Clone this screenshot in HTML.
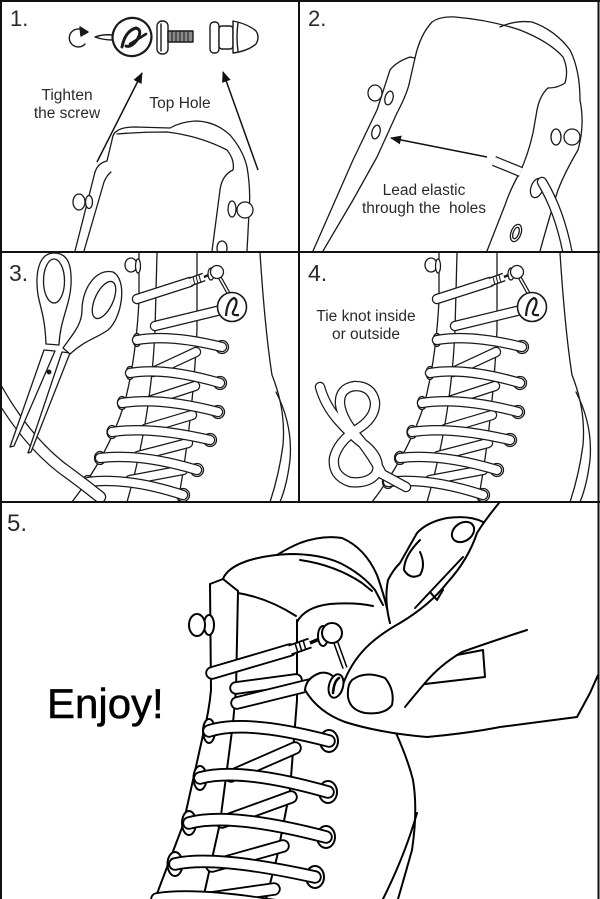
<!DOCTYPE html>
<html><head><meta charset="utf-8">
<style>
html,body{margin:0;padding:0;background:#fff;}
svg{display:block;}
.t{font-family:"Liberation Sans",sans-serif;fill:#2a2a2a;}
.bo{fill:none;stroke:#1a1a1a;stroke-width:10.5;stroke-linecap:round;}
.bi{fill:none;stroke:#fff;stroke-width:8;stroke-linecap:round;}
.bo5{fill:none;stroke:#000;stroke-width:13.5;stroke-linecap:round;}
.bi5{fill:none;stroke:#fff;stroke-width:9.8;stroke-linecap:round;}
</style></head><body>
<svg width="600" height="899" viewBox="0 0 600 899" xmlns="http://www.w3.org/2000/svg">
<defs>
 <marker id="ah" viewBox="0 0 11 9" refX="10" refY="4.5" markerWidth="11" markerHeight="9" orient="auto" markerUnits="userSpaceOnUse">
  <path d="M0,0 L11,4.5 L0,9 Z" fill="#111"/>
 </marker>
 <clipPath id="c1"><rect x="2" y="2" width="296" height="249"/></clipPath>
 <clipPath id="c2"><rect x="300" y="2" width="297" height="249"/></clipPath>
 <clipPath id="c3"><rect x="2" y="253" width="296" height="248"/></clipPath>
 <clipPath id="c4"><rect x="300" y="253" width="297" height="248"/></clipPath>
 <clipPath id="c5"><rect x="2" y="503" width="596" height="396"/></clipPath>

 <g id="boot34">
  <g fill="none" stroke="#1a1a1a" stroke-width="1.3" stroke-linecap="round" stroke-linejoin="round">
   <path d="M139,253 L139,300 Q136,360 124,405 Q108,455 72,502"/>
   <path d="M157,253 L155,330 Q151,420 127,502"/>
   <path d="M197,253 L197,330 Q193,420 178,502"/>
   <path d="M260,253 Q265,330 272,375 Q286,410 283,445 Q279,475 270,502"/>
   <path d="M276,392 Q293,425 290,460 Q287,485 280,502"/>
  </g>
  <path class="bo" d="M153,372 L196,352"/><path class="bi" d="M153,372 L196,352"/>
  <path class="bo" d="M149,401 L195,386"/><path class="bi" d="M149,401 L195,386"/>
  <path class="bo" d="M145,429 L192,415"/><path class="bi" d="M145,429 L192,415"/>
  <path class="bo" d="M138,456 L188,443"/><path class="bi" d="M138,456 L188,443"/>
  <path class="bo" d="M130,480 L183,470"/><path class="bi" d="M130,480 L183,470"/>
  <g fill="#fff" stroke="#1a1a1a" stroke-width="1.3">
   <circle cx="222" cy="347" r="6.5"/><circle cx="220" cy="383" r="6.5"/><circle cx="218" cy="412" r="6.5"/>
   <circle cx="210" cy="440" r="6.5"/><circle cx="197" cy="470" r="6.5"/><circle cx="183" cy="495" r="6.5"/>
   <ellipse cx="137" cy="340" rx="4" ry="6.5"/><ellipse cx="130" cy="373" rx="4" ry="6.5"/><ellipse cx="122" cy="403" rx="4.5" ry="6.5"/>
   <ellipse cx="112" cy="432" rx="5" ry="6.5"/><ellipse cx="100" cy="458" rx="5.5" ry="6.5"/><ellipse cx="88" cy="482" rx="5.5" ry="6.5"/>
  </g>
  <path class="bo" d="M155,326 L221,310"/><path class="bi" d="M155,326 L221,310"/>
  <path class="bo" d="M137,299 L190,282"/><path class="bi" d="M137,299 L190,282"/>
  <path d="M190,282 L204,277" stroke="#1a1a1a" stroke-width="9" fill="none"/>
  <path d="M190,282 L204,277" stroke="#fff" stroke-width="6.4" fill="none"/>
  <g stroke="#1a1a1a" stroke-width="1">
   <line x1="193" y1="277" x2="195" y2="285"/><line x1="196" y1="276" x2="198" y2="284"/><line x1="199" y1="275" x2="201" y2="283"/>
  </g>
  <path d="M204,277 L213,273" stroke="#1a1a1a" stroke-width="2.5"/>
  <path class="bo" d="M137,340 Q170,334 222,347"/><path class="bi" d="M137,340 Q170,334 222,347"/>
  <path class="bo" d="M130,373 Q165,367 220,383"/><path class="bi" d="M130,373 Q165,367 220,383"/>
  <path class="bo" d="M122,403 Q160,397 218,412"/><path class="bi" d="M122,403 Q160,397 218,412"/>
  <path class="bo" d="M112,432 Q150,426 210,440"/><path class="bi" d="M112,432 Q150,426 210,440"/>
  <path class="bo" d="M100,458 Q140,453 197,470"/><path class="bi" d="M100,458 Q140,453 197,470"/>
  <path class="bo" d="M88,482 Q128,477 183,495"/><path class="bi" d="M88,482 Q128,477 183,495"/>
  <g fill="#fff" stroke="#1a1a1a" stroke-width="1.3">
   <path d="M220,278 L229,294" stroke-width="4"/>
   <path d="M220,278 L229,294" stroke="#fff" stroke-width="1.6"/>
   <ellipse cx="211" cy="274" rx="3" ry="6"/>
   <circle cx="217" cy="272" r="6.5"/>
   <circle cx="232" cy="307" r="14.5" stroke-width="1.6"/>
   <ellipse cx="131" cy="265" rx="6" ry="7"/>
   <ellipse cx="138" cy="266" rx="2.5" ry="7"/>
  </g>
  <path d="M226,316 Q227,301 234,298 Q239,300 234,310 Q230,316 239,315" fill="none" stroke="#1a1a1a" stroke-width="2.2"/>
 </g>
</defs>

<!-- ========== PANEL 1 ========== -->
<g clip-path="url(#c1)">
 <text class="t" x="10" y="26" font-size="22">1.</text>
 <g fill="none" stroke="#1a1a1a" stroke-width="1.4" stroke-linecap="round" stroke-linejoin="round">
  <path d="M84,31 A9,9 0 1 0 85,44"/>
  <path d="M80,27 L88,32 L81,36 Z" fill="#1a1a1a"/>
  <path d="M95,37 Q103,34 113,35 L113,40 Q103,40 95,37 Z" fill="#fff"/>
  <ellipse cx="132" cy="37" rx="19.5" ry="19" stroke-width="2.2" fill="#fff" transform="rotate(-20 132 37)"/>
  <path d="M122,47 Q125,31 136,28 Q143,30 137,40 Q131,48 126,46" stroke-width="3"/>
  <path d="M130,44 L146,34" stroke-width="2.6"/>
  <rect x="157" y="21" width="11" height="33" rx="5" fill="#fff"/>
  <line x1="161" y1="24" x2="161" y2="51"/>
  <rect x="168" y="31" width="25" height="11" fill="#8a8a8a"/>
  <path d="M172,31 V42 M176,31 V42 M180,31 V42 M184,31 V42 M188,31 V42" stroke-width="1"/>
  <rect x="210" y="22" width="9" height="31" rx="4" fill="#fff"/>
  <rect x="219" y="26" width="14" height="23" rx="3" fill="#fff"/>
  <path d="M233,21 Q248,24 256,31 Q260,37 256,44 Q248,51 233,53 Z" fill="#fff"/>
  <path d="M238,23 Q236,37 238,51"/>
 </g>
 <line x1="97" y1="162" x2="142" y2="73" stroke="#111" stroke-width="1.5" marker-end="url(#ah)"/>
 <line x1="258" y1="170" x2="223" y2="72" stroke="#111" stroke-width="1.5" marker-end="url(#ah)"/>
 <text class="t" x="67" y="100" font-size="15.5" text-anchor="middle">Tighten</text>
 <text class="t" x="67" y="118" font-size="15.5" text-anchor="middle">the screw</text>
 <text class="t" x="180" y="108" font-size="15.5" text-anchor="middle">Top Hole</text>
 <g fill="none" stroke="#1a1a1a" stroke-width="1.3" stroke-linecap="round" stroke-linejoin="round">
  <path d="M75,251 L95,172 Q98,163 107,161 L112,140 Q113,133 117,131"/>
  <path d="M84,251 L104,182 Q107,175 111,172"/>
  <path d="M117,131 Q122,127 135,127 L170,128 Q180,122 195,121 Q215,121 230,135 Q243,150 247,167 Q251,190 249,213 L247,251"/>
  <path d="M117,134 Q140,132 167,132 Q200,136 227,150 Q235,160 233,170 Q222,175 220,190 L212,251"/>
  <ellipse cx="79" cy="202" rx="6" ry="8" fill="#fff"/>
  <ellipse cx="89" cy="202" rx="3.5" ry="6.5" fill="#fff"/>
  <ellipse cx="232" cy="209" rx="4" ry="8" fill="#fff"/>
  <circle cx="245" cy="210" r="8" fill="#fff"/>
  <ellipse cx="222" cy="248" rx="5" ry="7"/>
 </g>
</g>

<!-- ========== PANEL 2 ========== -->
<g clip-path="url(#c2)">
 <text class="t" x="308" y="26" font-size="22">2.</text>
 <g fill="none" stroke="#1a1a1a" stroke-width="1.3" stroke-linecap="round" stroke-linejoin="round">
  <path d="M313,251 L353,160 L377,110 L390,70 Q396,62 410,57 L415,58"/>
  <path d="M323,251 L353,200 L377,157 L397,113 Q408,92 410,80 L415,58"/>
  <path d="M415,58 Q420,35 432,22 Q440,16 455,17 Q490,20 520,30 Q550,42 563,57 Q569,70 565,83 Q558,88 548,88"/>
  <path d="M500,27 Q515,20 532,22 Q555,30 570,50 Q580,70 580,100"/>
  <path d="M548,88 Q540,95 537,110 L533,133 Q528,155 520,172 Q510,190 505,205 L487,251"/>
  <path d="M580,100 Q585,125 578,150 Q565,172 558,190 Q550,215 540,251"/>
  <ellipse cx="375" cy="93" rx="7" ry="8" fill="#fff"/>
  <ellipse cx="389" cy="98" rx="4" ry="7" transform="rotate(15 389 98)"/>
  <ellipse cx="376" cy="132" rx="4" ry="7" transform="rotate(15 376 132)"/>
  <ellipse cx="556" cy="137" rx="5" ry="8" fill="#fff"/>
  <circle cx="572" cy="137" r="8" fill="#fff"/>
  <ellipse cx="516" cy="233" rx="5" ry="9" transform="rotate(20 516 233)"/>
  <ellipse cx="516" cy="233" rx="2.8" ry="6" transform="rotate(20 516 233)"/>
 </g>
 <path d="M494,161 L521,172" stroke="#1a1a1a" stroke-width="10.5"/>
 <path d="M494,161 L521,172" stroke="#fff" stroke-width="8"/>
 <ellipse cx="537" cy="188" rx="6" ry="10" fill="#fff" stroke="#1a1a1a" stroke-width="1.3" transform="rotate(20 537 188)"/>
 <path class="bo" d="M542,182 Q560,212 568,255"/><path class="bi" d="M542,182 Q560,212 568,255"/>
 <line x1="487" y1="157" x2="391" y2="138" stroke="#111" stroke-width="1.6" marker-end="url(#ah)"/>
 <text class="t" x="424" y="195" font-size="15.5" text-anchor="middle">Lead elastic</text>
 <text class="t" x="424" y="213" font-size="15.5" text-anchor="middle">through the&#160; holes</text>
</g>

<!-- ========== PANEL 3 ========== -->
<g clip-path="url(#c3)">
 <use href="#boot34"/>
 <path class="bo" d="M-5,386 Q28,445 70,474 Q85,485 100,497" style="stroke-width:12.5"/>
 <path class="bi" d="M-5,386 Q28,445 70,474 Q85,485 100,497" style="stroke-width:10"/>
 <g fill="#fff" stroke="#1a1a1a" stroke-width="1.3" stroke-linejoin="round">
  <path d="M44,350 L10,447 L14,446 L55,351 Z"/>
  <path d="M62,352 L28,453 L31,452 L70,353 Z"/>
  <path d="M54,253 C38,253 35,275 38,295 C41,310 45,318 46,344 L59,345 C60,320 70,305 71,285 C72,265 68,253 54,253 Z"/>
  <ellipse cx="54" cy="281" rx="10.5" ry="22"/>
  <path d="M113,272 C95,268 82,290 82,310 C82,325 72,335 63,348 L70,354 C85,340 97,338 108,330 C122,318 128,280 113,272 Z"/>
  <ellipse cx="104" cy="300" rx="9" ry="20" transform="rotate(25 104 300)"/>
  <circle cx="49" cy="372" r="1.8" fill="#1a1a1a"/>
 </g>
 <text class="t" x="9" y="281" font-size="23">3.</text>
</g>

<!-- ========== PANEL 4 ========== -->
<g clip-path="url(#c4)">
 <use href="#boot34" x="300" y="0"/>
 <path class="bo" d="M320,387 Q325,405 338,420 Q352,436 366,446 Q382,460 376,474 Q368,484 350,482 Q332,476 334,458 Q338,442 356,430 Q376,418 375,402 Q372,386 355,386 Q339,388 340,404 Q342,420 360,440 Q374,458 382,474 L406,487"/>
 <path class="bi" d="M320,387 Q325,405 338,420 Q352,436 366,446 Q382,460 376,474 Q368,484 350,482 Q332,476 334,458 Q338,442 356,430 Q376,418 375,402 Q372,386 355,386 Q339,388 340,404 Q342,420 360,440 Q374,458 382,474 L406,487"/>
 <text class="t" x="308" y="281" font-size="23">4.</text>
 <text class="t" x="366" y="321" font-size="15.5" text-anchor="middle">Tie knot inside</text>
 <text class="t" x="366" y="339" font-size="15.5" text-anchor="middle">or outside</text>
</g>

<!-- ========== PANEL 5 ========== -->
<g clip-path="url(#c5)">
 <text class="t" x="7" y="531" font-size="24">5.</text>
 <text x="47" y="718" font-size="42" font-family="Liberation Sans, sans-serif" fill="#000" stroke="#000" stroke-width="0.5">Enjoy!</text>
 <g fill="none" stroke="#000" stroke-width="2" stroke-linecap="round" stroke-linejoin="round">
  <path d="M210,584 L211,690 Q209,712 203,735 L183,825 L155,899"/>
  <path d="M238,591 L236,690 L233,723 L220,823 L203,899"/>
  <path d="M210,584 L223,579 L238,591"/>
  <path d="M223,579 Q227,568 247,561 Q265,555 290,554 Q320,554 340,563 Q362,574 375,590 L383,605"/>
  <path d="M277,555 Q290,547 300,543 Q322,535 342,538 Q365,548 377,575 Q386,600 390,623"/>
  <path d="M238,593 Q268,598 296,616"/>
  <path d="M297,622 Q305,607 330,604 Q355,602 373,606"/>
  <path d="M300,560 Q335,565 362,583 L372,591"/>
  <path d="M297,620 L297,700 L290,790 L277,857 L266,899"/>
  <path d="M396,733 Q408,760 413,780 Q418,810 412,850 Q405,875 398,899"/>
  <path d="M417,813 Q405,855 383,899"/>
  <ellipse cx="209" cy="625" rx="5" ry="10" fill="#fff"/>
  <ellipse cx="197" cy="625" rx="8" ry="11" fill="#fff"/>
 </g>
 <path class="bo5" d="M236,688 L296,680"/><path class="bi5" d="M236,688 L296,680"/>
 <path class="bo5" d="M231,776 L295,748"/><path class="bi5" d="M231,776 L295,748"/>
 <path class="bo5" d="M222,822 L291,797"/><path class="bi5" d="M222,822 L291,797"/>
 <path class="bo5" d="M212,866 L283,846"/><path class="bi5" d="M212,866 L283,846"/>
 <path class="bo5" d="M204,899 L274,889"/><path class="bi5" d="M204,899 L274,889"/>
 <g fill="#fff" stroke="#000" stroke-width="2">
  <ellipse cx="329" cy="741" rx="9" ry="11"/><ellipse cx="328" cy="792" rx="9" ry="11"/>
  <ellipse cx="326" cy="837" rx="9" ry="11"/><ellipse cx="315" cy="877" rx="9" ry="11"/>
  <ellipse cx="209" cy="731" rx="6" ry="12"/><ellipse cx="200" cy="778" rx="6.5" ry="12"/>
  <ellipse cx="189" cy="823" rx="7" ry="12"/><ellipse cx="175" cy="864" rx="7.5" ry="12"/>
 </g>
 <path class="bo5" d="M212,673 L290,650"/><path class="bi5" d="M212,673 L290,650"/>
 <path d="M290,650 L310,643" stroke="#000" stroke-width="11" fill="none"/>
 <path d="M290,650 L310,643" stroke="#fff" stroke-width="7.5" fill="none"/>
 <g stroke="#000" stroke-width="1.5"><line x1="295" y1="643" x2="298" y2="653"/><line x1="299" y1="642" x2="302" y2="652"/><line x1="303" y1="640" x2="306" y2="650"/></g>
 <path d="M310,643 L324,637" stroke="#000" stroke-width="3.5"/>
 <path class="bo5" d="M237,703 L322,682"/><path class="bi5" d="M237,703 L322,682"/>
 <path class="bo5" d="M209,731 Q245,719 329,741"/><path class="bi5" d="M209,731 Q245,719 329,741"/>
 <path class="bo5" d="M200,778 Q240,767 328,792"/><path class="bi5" d="M200,778 Q240,767 328,792"/>
 <path class="bo5" d="M189,823 Q230,812 326,837"/><path class="bi5" d="M189,823 Q230,812 326,837"/>
 <path class="bo5" d="M175,864 Q215,855 315,877"/><path class="bi5" d="M175,864 Q215,855 315,877"/>
 <path class="bo5" d="M157,899 Q200,892 300,910"/><path class="bi5" d="M157,899 Q200,892 300,910"/>
 <path d="M336,643 L345,668" stroke="#000" stroke-width="5.5"/>
 <path d="M336,643 L345,668" stroke="#fff" stroke-width="2.5"/>
 <ellipse cx="323" cy="636" rx="5" ry="10" fill="#fff" stroke="#000" stroke-width="2"/>
 <circle cx="332" cy="633" r="10" fill="#fff" stroke="#000" stroke-width="2"/>
 <path d="M499,503 L598,503 L598,675 L590,693 L577,717 L500,727 Q470,733 427,737 Q380,733 345,722 Q318,712 305,692 Q305,678 320,673 Q333,670 341,685 Q348,668 362,652 Q375,637 400,623 Q430,605 447,583 Q468,560 477,533 Q485,520 499,503 Z" fill="#fff"/>
 <path d="M390,623 Q384,600 388,580 Q393,570 400,563 L417,533 Q427,522 447,518 Q470,515 483,522 L477,533 Q468,560 447,583 Q430,605 400,623 Z" fill="#fff"/>
 <g fill="none" stroke="#000" stroke-width="2" stroke-linecap="round" stroke-linejoin="round">
  <path d="M499,503 Q485,520 477,533 Q468,560 447,583 Q430,605 400,623 Q375,637 362,652 Q348,668 341,690"/>
  <path d="M527,630 Q490,642 462,652 Q440,665 425,683 Q413,697 405,707"/>
  <path d="M457,655 L483,650 L485,677 L425,684"/>
  <path d="M305,690 Q318,712 345,722 Q380,733 427,737 Q470,733 500,727 L577,717 L590,693 L598,675"/>
  <path d="M341,688 Q333,670 320,673 Q306,678 305,690"/>
  <path d="M352,680 Q365,670 385,678 Q395,690 392,705 Q385,715 365,713 Q350,710 348,697 Q347,685 352,680 Z" fill="#fff"/>
  <path d="M390,623 Q384,600 388,580 Q393,570 400,563 L417,533 Q427,522 447,518 Q470,515 483,522"/>
  <ellipse cx="463" cy="532" rx="12" ry="9" transform="rotate(-35 463 532)"/>
  <path d="M420,540 Q404,556 404,570 Q410,580 420,575 Q426,565 420,552"/>
  <path d="M415,608 L463,557"/>
  <path d="M430,592 L437,600 L443,590"/>
  <ellipse cx="336" cy="686" rx="7" ry="12" fill="#fff" transform="rotate(15 336 686)"/>
  <path d="M333,693 Q334,681 339,678" stroke-width="2.6"/>
 </g>
</g>

<!-- borders -->
<g stroke="#111" stroke-width="2" fill="none">
 <line x1="0" y1="1" x2="600" y2="1"/>
 <line x1="1" y1="0" x2="1" y2="899"/>
 <line x1="598.5" y1="0" x2="598.5" y2="899"/>
 <line x1="299" y1="0" x2="299" y2="502"/>
 <line x1="0" y1="252" x2="600" y2="252"/>
 <line x1="0" y1="502" x2="600" y2="502"/>
</g>
</svg>
</body></html>
